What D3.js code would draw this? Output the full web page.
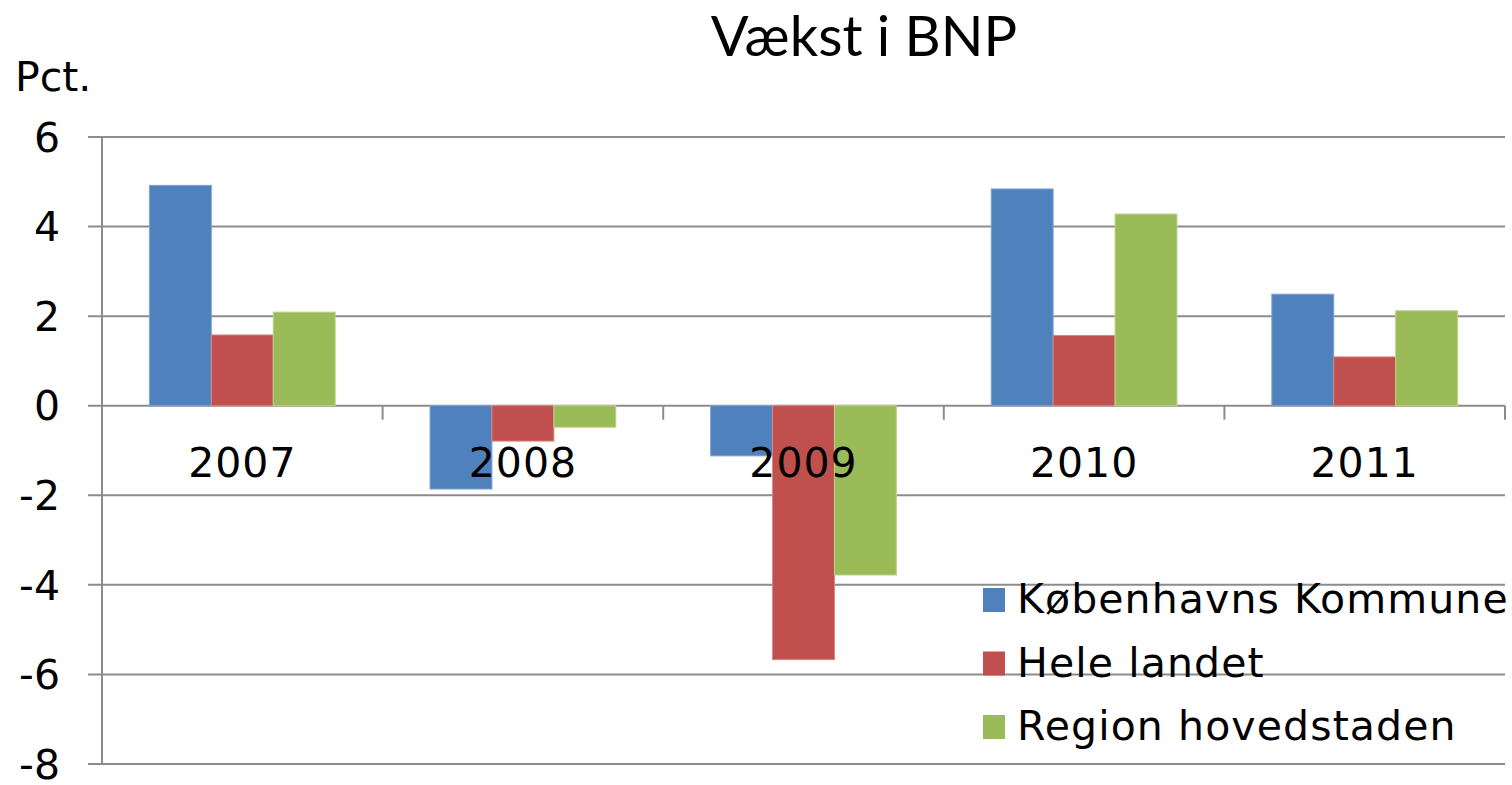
<!DOCTYPE html>
<html lang="da">

<head>
    <meta charset="UTF-8">
    <title>Vækst i BNP</title>
    <script src="https://d3js.org/d3.v7.min.js"></script>
    <style>
        body { margin: 0; background: #fff; }
        svg { display: block; }
    </style>
</head>

<body>
    <svg id="chart" width="1512" height="785"></svg>
</body>
<script>
    // data
    const years = ["2007", "2008", "2009", "2010", "2011"];
    const series = ["Københavns Kommune", "Hele landet", "Region hovedstaden"];
    const kbh = [4.92, -1.86, -1.12, 4.84, 2.49];
    const landet = [1.58, -0.79, -5.67, 1.57, 1.09];
    const region = [2.09, -0.48, -3.78, 4.28, 2.12];
    const yTicks = [-8, -6, -4, -2, 0, 2, 4, 6];
    const colors = ["#4F81BD", "#C0504D", "#9BBB59"];
    const edges = ["#7ea3d3", "#d98684", "#bcd38a"];

    const values = [kbh, landet, region];
    const rows = years.map((y, i) => ({ year: y, vals: values.map(v => v[i]) }));

    const svg = d3.select("#chart");
    const plotLeft = 102, plotRight = 1505, plotTop = 137, plotBottom = 764;
    const labelFont = "'DejaVu Sans', Verdana, sans-serif";
    const gridColor = "#8c8c8c";

    const x0 = d3.scaleBand().domain(years).range([plotLeft, plotRight])
        .paddingInner(0.338).paddingOuter(0.169);
    const x1 = d3.scaleBand().domain(d3.range(series.length)).range([0, x0.bandwidth()]);
    const y = d3.scaleLinear().domain([-8, 6]).range([plotBottom, plotTop]);

    // gridlines
    svg.append("g")
        .selectAll("line")
        .data(yTicks)
        .join("line")
        .attr("x1", plotLeft - 14)
        .attr("x2", plotRight)
        .attr("y1", d => y(d))
        .attr("y2", d => y(d))
        .attr("stroke", gridColor)
        .attr("stroke-width", 2);

    // y axis line
    svg.append("line")
        .attr("x1", plotLeft).attr("x2", plotLeft)
        .attr("y1", plotTop).attr("y2", plotBottom)
        .attr("stroke", gridColor)
        .attr("stroke-width", 2);

    // category ticks on the zero line
    const bounds = years.map(d => x0(d) - x0.step() * x0.paddingOuter()).concat([plotRight]);
    svg.append("g")
        .selectAll("line")
        .data(bounds)
        .join("line")
        .attr("x1", d => d).attr("x2", d => d)
        .attr("y1", y(0)).attr("y2", y(0) + 14)
        .attr("stroke", gridColor)
        .attr("stroke-width", 2);

    // bars
    svg.append("g")
        .selectAll("g")
        .data(rows)
        .join("g")
        .attr("transform", d => `translate(${x0(d.year)},0)`)
        .selectAll("rect")
        .data(d => d.vals.map((v, i) => ({ v, i })))
        .join("rect")
        .attr("x", d => x1(d.i))
        .attr("width", x1.bandwidth())
        .attr("y", d => y(Math.max(0, d.v)))
        .attr("height", d => Math.abs(y(d.v) - y(0)))
        .attr("fill", d => colors[d.i])
        .attr("stroke", d => edges[d.i])
        .attr("stroke-width", 1);

    // y tick labels
    svg.append("g")
        .selectAll("text")
        .data(yTicks)
        .join("text")
        .attr("x", 60)
        .attr("y", d => y(d))
        .attr("dy", "0.36em")
        .attr("text-anchor", "end")
        .style("font-family", labelFont)
        .style("font-size", "41px")
        .text(d => d);

    // category labels
    svg.append("g")
        .selectAll("text")
        .data(years)
        .join("text")
        .attr("x", d => x0(d) + x0.bandwidth() / 2)
        .attr("y", 477)
        .attr("text-anchor", "middle")
        .style("font-family", labelFont)
        .style("font-size", "41px")
        .style("letter-spacing", "1px")
        .text(d => d);

    // unit label and title
    svg.append("text")
        .attr("x", 15).attr("y", 91)
        .style("font-family", labelFont)
        .style("font-size", "41px")
        .text("Pct.");

    svg.append("text")
        .attr("x", 864).attr("y", 56)
        .attr("text-anchor", "middle")
        .style("font-family", "Lato, 'Open Sans', sans-serif")
        .style("font-size", "56px")
        .text("Vækst i BNP");

    // legend
    const legend = svg.append("g")
        .selectAll("g")
        .data(series)
        .join("g")
        .attr("transform", (d, i) => `translate(983,${613 + i * 63.5})`);

    legend.append("rect")
        .attr("x", 0).attr("y", -25)
        .attr("width", 22).attr("height", 24)
        .attr("fill", (d, i) => colors[i]);

    legend.append("text")
        .attr("x", 34).attr("y", 0)
        .style("font-family", labelFont)
        .style("font-size", "41px")
        .style("letter-spacing", "1.1px")
        .text(d => d);
</script>

</html>
